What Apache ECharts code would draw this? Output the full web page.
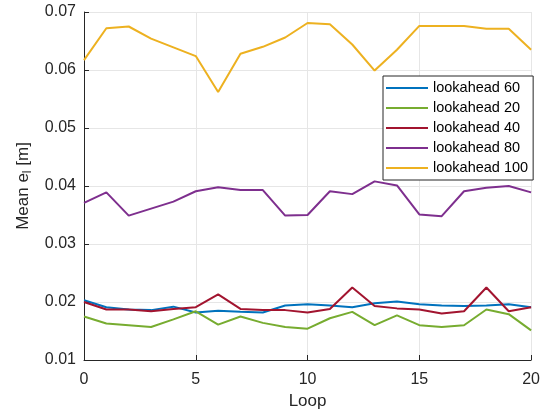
<!DOCTYPE html>
<html>
<head>
<meta charset="utf-8">
<script src="https://cdn.jsdelivr.net/npm/echarts@6/dist/echarts.min.js"></script>
<style>
  html, body { margin: 0; padding: 0; background: #fff; }
  #chart { width: 543px; height: 415px; }
</style>
</head>
<body>
<div id="chart"></div>
<script>
// Loop index 0..20
const loops = [0,1,2,3,4,5,6,7,8,9,10,11,12,13,14,15,16,17,18,19,20];

// Mean lateral error per loop for each lookahead distance
const lookahead60  = [0.0203,0.0191,0.0187,0.0186,0.0192,0.0182,0.0185,0.0183,0.0182,0.0194,0.0196,0.0194,0.0191,0.0198,0.0201,0.0196,0.0194,0.0193,0.0194,0.0196,0.0191];
const lookahead20  = [0.0175,0.0163,0.0160,0.0157,0.0170,0.0184,0.0161,0.0175,0.0164,0.0157,0.0154,0.0172,0.0183,0.0160,0.0177,0.0160,0.0157,0.0160,0.0187,0.0179,0.0151];
const lookahead40  = [0.0200,0.0187,0.0187,0.0184,0.0188,0.0191,0.0213,0.0188,0.0186,0.0186,0.0182,0.0188,0.0225,0.0193,0.0189,0.0187,0.0180,0.0184,0.0225,0.0184,0.0191];
const lookahead80  = [0.0371,0.0389,0.0349,0.0361,0.0373,0.0391,0.0398,0.0393,0.0393,0.0349,0.0350,0.0391,0.0386,0.0408,0.0401,0.0351,0.0348,0.0391,0.0397,0.0400,0.0389];
const lookahead100 = [0.0617,0.0672,0.0675,0.0654,0.0639,0.0624,0.0562,0.0628,0.0640,0.0656,0.0681,0.0679,0.0644,0.0599,0.0635,0.0676,0.0676,0.0676,0.0671,0.0671,0.0635];

const seriesDefs = [
  { name: 'lookahead 60',  data: lookahead60,  color: '#0072BD' },
  { name: 'lookahead 20',  data: lookahead20,  color: '#77AC30' },
  { name: 'lookahead 40',  data: lookahead40,  color: '#A2142F' },
  { name: 'lookahead 80',  data: lookahead80,  color: '#7E2F8E' },
  { name: 'lookahead 100', data: lookahead100, color: '#EDB120' }
];

const font = "'Liberation Sans', Arial, Helvetica, sans-serif";
const ink = '#262626';

const chart = echarts.init(document.getElementById('chart'), null, { renderer: 'canvas' });

chart.setOption({
  animation: false,
  backgroundColor: '#ffffff',
  grid: { left: 84, right: 11, top: 12, bottom: 54, containLabel: false },
  legend: {
    orient: 'vertical',
    left: 383,
    top: 76,
    padding: [4, 5, 4, 3],
    itemGap: 4,
    itemWidth: 42,
    itemHeight: 2,
    icon: 'rect',
    backgroundColor: '#ffffff',
    borderColor: ink,
    borderWidth: 1,
    borderRadius: 0,
    textStyle: { fontFamily: font, fontSize: 14.5, lineHeight: 16, color: '#000' },
    data: seriesDefs.map(s => s.name)
  },
  xAxis: {
    type: 'value',
    min: 0, max: 20, interval: 5,
    name: 'Loop',
    nameLocation: 'middle',
    nameGap: 33,
    nameTextStyle: { fontFamily: font, fontSize: 17, color: ink },
    axisLine: { show: true, onZero: false, lineStyle: { color: ink, width: 1 } },
    axisTick: { show: true, inside: true, length: 5, lineStyle: { color: ink } },
    axisLabel: { fontFamily: font, fontSize: 16, color: ink, margin: 12 },
    splitLine: { show: true, lineStyle: { color: '#e6e6e6', width: 1 } }
  },
  yAxis: {
    type: 'value',
    min: 0.01, max: 0.07, interval: 0.01,
    name: 'Mean e{sub|l} [m]',
    nameLocation: 'middle',
    nameGap: 50,
    nameRotate: 90,
    nameTextStyle: {
      fontFamily: font, fontSize: 17, color: ink,
      rich: { sub: { fontFamily: font, fontSize: 12, color: ink, padding: [9, 0, 0, 0] } }
    },
    axisLine: { show: true, lineStyle: { color: ink, width: 1 } },
    axisTick: { show: true, inside: true, length: 5, lineStyle: { color: ink } },
    axisLabel: {
      fontFamily: font, fontSize: 16, color: ink, margin: 8,
      formatter: v => v.toFixed(2)
    },
    splitLine: { show: true, lineStyle: { color: '#e6e6e6', width: 1 } }
  },
  series: seriesDefs.map(s => ({
    name: s.name,
    type: 'line',
    data: loops.map((x, i) => [x, s.data[i]]),
    symbol: 'none',
    lineStyle: { color: s.color, width: 2 },
    itemStyle: { color: s.color }
  }))
});
</script>
</body>
</html>
